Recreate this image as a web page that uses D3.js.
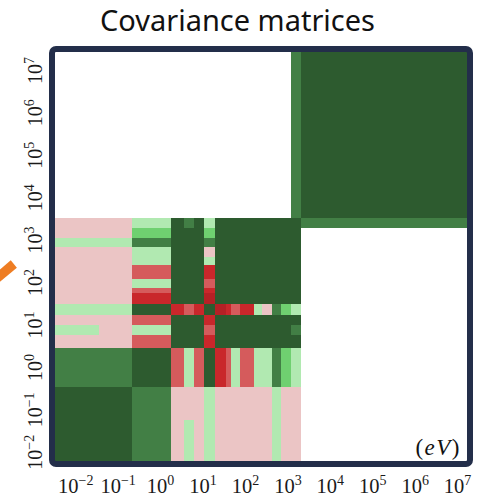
<!DOCTYPE html>
<html><head><meta charset="utf-8">
<script src="https://cdn.jsdelivr.net/npm/d3@7"></script>
<style>body{margin:0;background:#fff}svg{display:block}</style>
</head><body>
<svg id="chart" width="491" height="497"></svg>
<script>
// Energy group boundaries (eV), 17 groups
const groupEdges = [3.34e-3, 0.0364, 0.215, 1.81, 3.73, 6.41, 11.0, 19.7, 35.2, 47.0, 77.8, 161, 248, 428, 697, 1250, 2100, 1.71e7];
// Tick exponents (10^k)
const tickExponents = [-2, -1, 0, 1, 2, 3, 4, 5, 6, 7];
// Correlation matrix (row = y group, col = x group), null = no data
const corrRows = [
  [1, 1, 0.8, -0.1, 0.2, -0.1, 0.2, -0.1, -0.1, -0.1, -0.1, -0.1, -0.1, 0.2, -0.1, -0.1, null],
  [1, 1, 0.8, -0.1, -0.1, -0.1, 0.2, -0.1, -0.1, -0.1, -0.1, -0.1, -0.1, 0.2, -0.1, -0.1, null],
  [0.8, 0.8, 1, -0.45, 0.2, -0.45, 1, -0.7, -0.45, 0.2, -0.45, 0.2, 0.2, 0.8, 0.55, 0.2, null],
  [-0.1, -0.1, -0.45, 1, 1, 1, -0.7, 1, 1, 1, 1, 1, 1, 1, 1, 1, null],
  [0.2, -0.1, 0.2, 1, 1, 1, -0.45, 1, 1, 1, 1, 1, 1, 1, 1, 0.8, null],
  [-0.1, -0.1, -0.45, 1, 1, 1, -0.7, 1, 1, 1, 1, 1, 1, 1, 1, 1, null],
  [0.2, 0.2, 1, -0.7, -0.45, -0.7, 1, -0.85, -0.7, -0.45, -0.7, 0.2, -0.1, 0.8, 0.55, 0.2, null],
  [-0.1, -0.1, -0.7, 1, 1, 1, -0.85, 1, 1, 1, 1, 1, 1, 1, 1, 1, null],
  [-0.1, -0.1, -0.45, 1, 1, 1, -0.7, 1, 1, 1, 1, 1, 1, 1, 1, 1, null],
  [-0.1, -0.1, 0.2, 1, 1, 1, -0.45, 1, 1, 1, 1, 1, 1, 1, 1, 1, null],
  [-0.1, -0.1, -0.45, 1, 1, 1, -0.7, 1, 1, 1, 1, 1, 1, 1, 1, 1, null],
  [-0.1, -0.1, 0.2, 1, 1, 1, 0.2, 1, 1, 1, 1, 1, 1, 1, 1, 1, null],
  [-0.1, -0.1, 0.2, 1, 1, 1, -0.1, 1, 1, 1, 1, 1, 1, 1, 1, 1, null],
  [0.2, 0.2, 0.8, 1, 1, 1, 0.8, 1, 1, 1, 1, 1, 1, 1, 1, 1, null],
  [-0.1, -0.1, 0.55, 1, 1, 1, 0.55, 1, 1, 1, 1, 1, 1, 1, 1, 1, null],
  [-0.1, -0.1, 0.2, 1, 0.8, 1, 0.2, 1, 1, 1, 1, 1, 1, 1, 1, 1, 0.8],
  [null, null, null, null, null, null, null, null, null, null, null, null, null, null, null, 0.8, 1]
];
// Colour thresholds
const colorThresholds = [-0.8, -0.6, -0.3, 0, 0.35, 0.65, 0.9];
const colorLevels = ["#b52025", "#c9272b", "#d55b5c", "#ebc5c5", "#b1e9b1", "#6fd070", "#427f45", "#2d5b2f"];

const svg = d3.select("#chart");
const plot = {left: 55, right: 467, top: 52, bottom: 461};

const x = d3.scaleLog().domain([groupEdges[0], groupEdges[groupEdges.length - 1]]).range([55, 467]);
const y = d3.scaleLog().domain([groupEdges[0], groupEdges[groupEdges.length - 1]]).range([464, 52]);
const color = d3.scaleThreshold().domain(colorThresholds).range(colorLevels);

svg.append("defs").append("clipPath").attr("id", "clip")
  .append("rect").attr("x", plot.left).attr("y", plot.top)
  .attr("width", plot.right - plot.left).attr("height", plot.bottom - plot.top);

const cells = [];
corrRows.forEach((row, j) => row.forEach((v, i) => { if (v !== null) cells.push({i, j, v}); }));

svg.append("g").attr("clip-path", "url(#clip)")
  .selectAll("rect").data(cells).join("rect")
  .attr("x", d => x(groupEdges[d.i]))
  .attr("width", d => x(groupEdges[d.i + 1]) - x(groupEdges[d.i]))
  .attr("y", d => y(groupEdges[d.j + 1]))
  .attr("height", d => y(groupEdges[d.j]) - y(groupEdges[d.j + 1]))
  .attr("fill", d => color(d.v))
  .attr("shape-rendering", "crispEdges");

// frame
svg.append("rect").attr("x", 52).attr("y", 49).attr("width", 418).attr("height", 415)
  .attr("rx", 4).attr("fill", "none").attr("stroke", "#232e4a").attr("stroke-width", 6);

const tickVals = tickExponents.map(e => Math.pow(10, e));
const expText = v => { const e = Math.round(Math.log10(v)); return e < 0 ? "\u2212" + (-e) : String(e); };
const serif = "'Liberation Serif', 'DejaVu Serif', serif";

const gx = svg.append("g").attr("transform", "translate(0,493)")
  .call(d3.axisBottom(x).tickValues(tickVals).tickSize(0).tickPadding(0));
gx.select(".domain").remove();
gx.attr("font-family", serif).attr("font-size", 20.5);
gx.selectAll(".tick text").each(function(d) {
  const t = d3.select(this);
  t.text(null).attr("y", 0).attr("dy", 0).attr("fill", "#1a1a1a").attr("text-anchor", "middle");
  t.append("tspan").text("10");
  t.append("tspan").attr("dy", -8).attr("font-size", 14).text(expText(d));
});

const gy = svg.append("g").attr("transform", "translate(42,8)")
  .call(d3.axisLeft(y).tickValues(tickVals).tickSize(0).tickPadding(0));
gy.select(".domain").remove();
gy.attr("font-family", serif).attr("font-size", 20);
gy.selectAll(".tick text").each(function(d) {
  const t = d3.select(this);
  t.text(null).attr("x", 0).attr("y", 0).attr("dy", 0).attr("fill", "#1a1a1a")
    .attr("text-anchor", "middle").attr("transform", "rotate(-90)");
  t.append("tspan").text("10");
  t.append("tspan").attr("dy", -8).attr("font-size", 14).text(expText(d));
});

// unit label
const unit = svg.append("text").attr("x", 461).attr("y", 455).attr("text-anchor", "end")
  .attr("font-family", serif).attr("font-size", 23).attr("letter-spacing", 1.5).attr("fill", "#111");
unit.append("tspan").text("(");
unit.append("tspan").attr("font-style", "italic").text("eV");
unit.append("tspan").text(")");

// title
const title = svg.append("text").attr("x", 237.5).attr("y", 31).attr("text-anchor", "middle")
  .attr("font-family", "'Noto Sans', 'Open Sans', sans-serif").attr("font-size", 28).attr("fill", "#111")
  .text("Covariance matrices");
const w = title.node().getComputedTextLength();
title.attr("font-size", 28 * 275 / w);

// orange pointer
svg.append("line").attr("x1", -17).attr("y1", 290).attr("x2", 13.8).attr("y2", 264)
  .attr("stroke", "#ee7d23").attr("stroke-width", 9.5);
</script>
</body></html>
